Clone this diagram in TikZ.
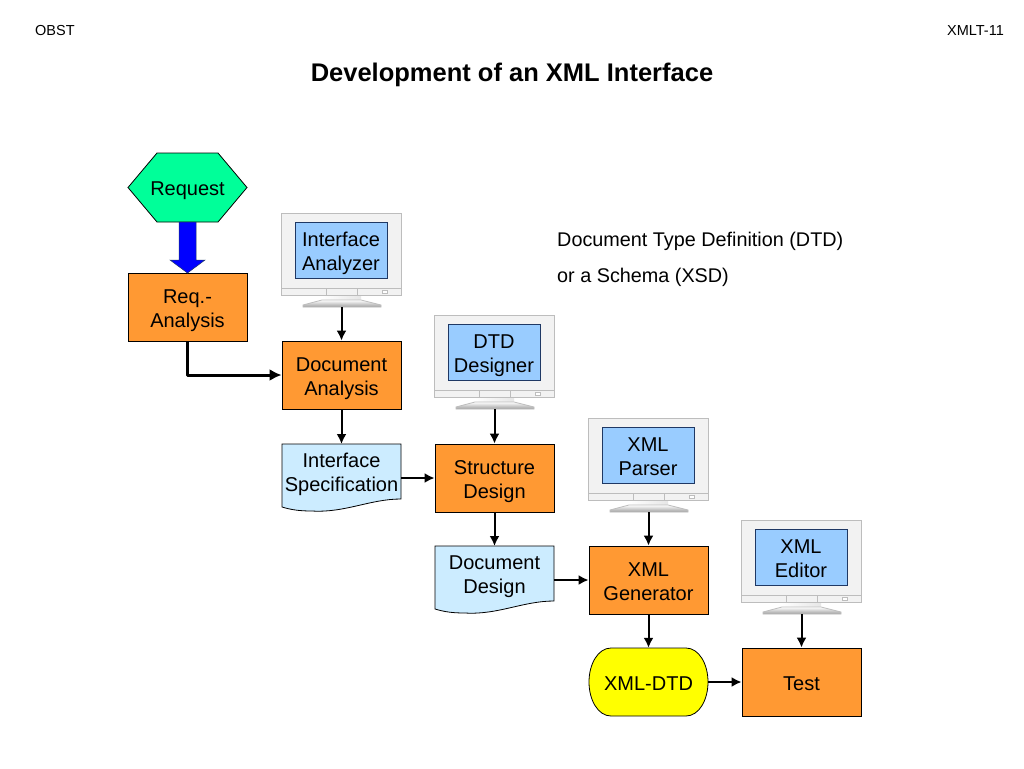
\documentclass[tikz,border=0pt]{standalone}
\usepackage{fontspec}
\setmainfont{Liberation Sans}
\usetikzlibrary{arrows.meta}
\definecolor{boxorange}{HTML}{FF9933}
\definecolor{hexgreen}{HTML}{00FF99}
\definecolor{docblue}{HTML}{CCECFF}
\definecolor{screenblue}{HTML}{99CCFF}
\definecolor{bodygray}{HTML}{F2F2F2}
\definecolor{edgegray}{HTML}{BDBDBD}
\definecolor{navy}{HTML}{1F3864}
\definecolor{termyellow}{HTML}{FFFF00}
\newcommand{\labelstrut}{\rule{0pt}{22.5pt}\rule[-6pt]{0pt}{6pt}}
\newcommand{\oneline}[1]{\labelstrut\makebox[0pt][c]{#1}}
\newcommand{\twolines}[2]{\labelstrut\makebox[0pt][c]{\smash{\raisebox{12pt}{#1}}}\makebox[0pt][c]{\smash{\raisebox{-12pt}{#2}}}}
\tikzset{
  x=1pt,y=-1pt,
  label20/.style={font=\fontsize{20}{24}\selectfont,text=black,inner sep=0pt},
  procbox/.style={label20,draw=black,line width=0.8pt,fill=boxorange,minimum width=119pt,minimum height=68pt},
  plainbox/.style={label20,minimum width=119pt,minimum height=66pt},
  flow/.style={draw=black,line width=2pt,-{Latex[length=10pt,width=10pt]}},
  flowthick/.style={draw=black,line width=3pt,line join=round,-{Latex[length=12pt,width=12pt]}},
  shapeline/.style={draw=black,line width=0.8pt},
  bodyline/.style={draw=edgegray,line width=0.8pt},
  small/.style={font=\fontsize{14.5}{16}\selectfont,inner sep=0pt},
  note/.style={font=\fontsize{19.8}{24}\selectfont,inner sep=0pt,anchor=west}
}
\newcommand{\monitorat}[4]{%
  \begin{scope}[shift={(#2,#3)}]
    \fill[left color=white,right color=bodygray!90!gray] (41,82) -- (80,82) -- (80,87) -- (41,87) -- cycle;
    \path[bodyline,top color=white,bottom color=gray!75] (41,87) -- (80,87) -- (100,92) -- (100,94) -- (22,94) -- (22,92) -- cycle;
    \path[bodyline,fill=bodygray] (0,0) rectangle (120.5,82);
    \draw[bodyline] (0,75) -- (120.5,75) (45,75) -- (45,82) (76,75) -- (76,82);
    \draw[bodyline,fill=white] (101,77) rectangle (106,80);
    \node[label20,draw=navy,line width=1pt,fill=screenblue,minimum width=92pt,minimum height=56pt] (#1) at (60,37) {#4};
    \coordinate (#1base) at (60.5,94);
  \end{scope}}
\begin{document}
\begin{tikzpicture}
\useasboundingbox (0,0) rectangle (1024,768);
\fill[white] (0,0) rectangle (1024,768);
\node[small,anchor=west] (obst) at (35,31) {OBST};
\node[small,anchor=east] (xmlt) at (1004,31) {XMLT-11};
\node[font=\fontsize{25.5}{30}\selectfont\bfseries,inner sep=0pt] (title) at (512,75) {Development of an XML Interface};
\node[note] (n1) at (557,241) {Document Type Definition (DTD)};
\node[note] (n2) at (557,277) {or a Schema (XSD)};
% hexagon
\path[shapeline,fill=hexgreen] (128,187.5) -- (157,153) -- (218,153) -- (247,187.5) -- (218,222) -- (157,222) -- cycle;
\node[label20] (request) at (187.5,187.5) {\oneline{Request}};
% process boxes
\node[procbox] (reqan) at (187.5,307) {\twolines{Req.-}{Analysis}};
\node[procbox] (docan) at (341.5,375) {\twolines{Document}{Analysis}};
\node[procbox] (struct) at (494.5,478) {\twolines{Structure}{Design}};
\node[procbox] (gen) at (648.5,580) {\twolines{XML}{Generator}};
\node[procbox] (test) at (801.5,682) {\oneline{Test}};
% document shapes
\path[shapeline,fill=docblue] (282,444) -- (401,444) -- (401,499) .. controls (370,499) and (345,513) .. (312,511) .. controls (300,511) and (292,510) .. (282,507) -- cycle;
\node[plainbox] (spec) at (341.5,471) {\twolines{Interface}{Specification}};
\path[shapeline,fill=docblue] (435,546) -- (554,546) -- (554,601) .. controls (523,601) and (498,615) .. (465,613) .. controls (453,613) and (445,612) .. (435,609) -- cycle;
\node[plainbox] (dd) at (494.5,573) {\twolines{Document}{Design}};
% terminator
\path[shapeline,fill=termyellow] (611,648) -- (686,648) .. controls (699,648) and (708,664) .. (708,682) .. controls (708,700) and (699,716) .. (686,716) -- (611,716) .. controls (598,716) and (589,700) .. (589,682) .. controls (589,664) and (598,648) .. (611,648) -- cycle;
\node[label20,minimum width=119pt,minimum height=68pt] (dtd) at (648.5,682) {\oneline{XML-DTD}};
% monitors
\monitorat{mona}{281}{213}{\twolines{Interface}{Analyzer}}
\monitorat{monb}{434}{315}{\twolines{DTD}{Designer}}
\monitorat{monc}{588}{418}{\twolines{XML}{Parser}}
\monitorat{mond}{741}{520}{\twolines{XML}{Editor}}
% wide blue arrow
\path[draw=navy,line width=0.5pt,fill=blue] (179,222) -- (196,222) -- (196,260) -- (205,260) -- (187.5,273) -- (170,260) -- (179,260) -- cycle;
% connectors
\draw[flowthick] (reqan.south) |- (docan.west);
\draw[flow] (monabase) -- (docan.north);
\draw[flow] (docan.south) -- (341.5,444);
\draw[flow] (401,478) -- (struct.west);
\draw[flow] (monbbase) -- (struct.north);
\draw[flow] (struct.south) -- (494.5,546);
\draw[flow] (554,580) -- (gen.west);
\draw[flow] (moncbase) -- (gen.north);
\draw[flow] (gen.south) -- (dtd.north);
\draw[flow] (dtd.east) -- (test.west);
\draw[flow] (mondbase) -- (test.north);
\end{tikzpicture}
\end{document}
